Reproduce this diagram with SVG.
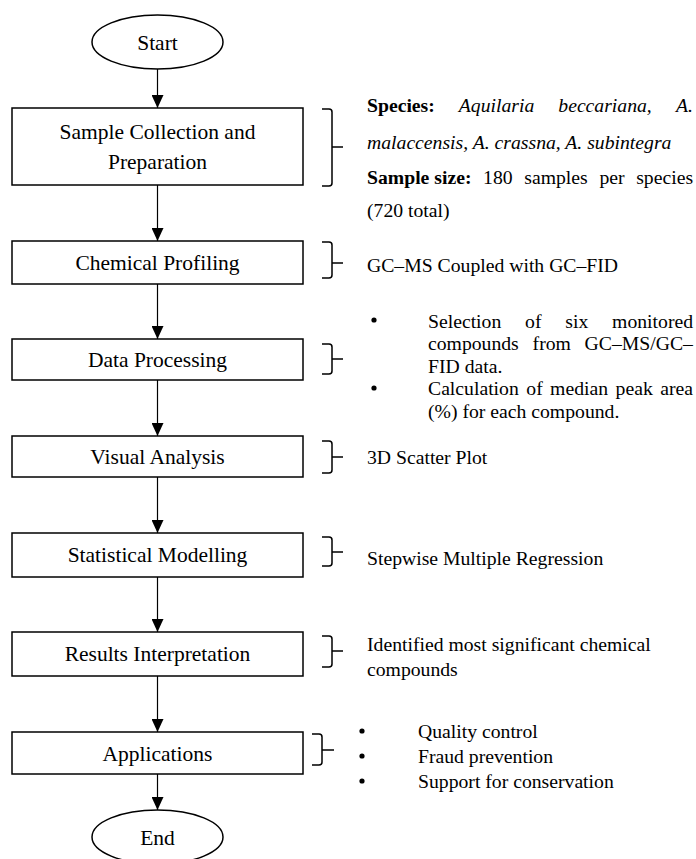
<svg xmlns="http://www.w3.org/2000/svg" width="696" height="859" viewBox="0 0 696 859">
<defs>
<marker id="ah" viewBox="0 -6 13 12" refX="13" refY="0" markerWidth="13" markerHeight="12" markerUnits="userSpaceOnUse" orient="auto"><path d="M0,-6 L13,0 L0,6 z" fill="#000"/></marker>
<style>
.box{fill:#fff;stroke:#000;stroke-width:1.5}
.lbl{font-family:"Liberation Serif","Times New Roman",serif;font-size:21.5px;fill:#000;text-anchor:middle}
.ann{font-family:"Liberation Serif","Times New Roman",serif;font-size:19.7px;fill:#000}
.b{font-weight:bold}
.i{font-style:italic}
.brace{fill:none;stroke:#000;stroke-width:1.5}
.conn{fill:none;stroke:#000;stroke-width:1.2;marker-end:url(#ah)}
.dot{fill:#000}
</style>
</defs>
<rect width="696" height="859" fill="#fff"/>

<g id="connectors">
<line class="conn" x1="157.5" y1="69" x2="157.5" y2="108"/>
<line class="conn" x1="157.5" y1="185" x2="157.5" y2="241"/>
<line class="conn" x1="157.5" y1="284" x2="157.5" y2="339"/>
<line class="conn" x1="157.5" y1="380" x2="157.5" y2="436"/>
<line class="conn" x1="157.5" y1="477" x2="157.5" y2="533"/>
<line class="conn" x1="157.5" y1="577" x2="157.5" y2="632"/>
<line class="conn" x1="157.5" y1="676" x2="157.5" y2="732"/>
<line class="conn" x1="157.5" y1="774" x2="157.5" y2="810"/>
</g>

<g id="start">
<ellipse class="box" cx="157.5" cy="42" rx="65.5" ry="27"/>
<text class="lbl" x="157.5" y="50">Start</text>
</g>
<g id="sample-collection">
<rect class="box" x="12" y="108" width="291" height="77"/>
<text class="lbl" x="157.5" y="139">Sample Collection and</text>
<text class="lbl" x="157.5" y="169">Preparation</text>
</g>
<g id="chemical-profiling">
<rect class="box" x="12" y="241" width="291" height="43"/>
<text class="lbl" x="157.5" y="270">Chemical Profiling</text>
</g>
<g id="data-processing">
<rect class="box" x="12" y="339" width="291" height="41"/>
<text class="lbl" x="157.5" y="367">Data Processing</text>
</g>
<g id="visual-analysis">
<rect class="box" x="12" y="436" width="291" height="41"/>
<text class="lbl" x="157.5" y="464">Visual Analysis</text>
</g>
<g id="statistical-modelling">
<rect class="box" x="12" y="533" width="291" height="44"/>
<text class="lbl" x="157.5" y="562">Statistical Modelling</text>
</g>
<g id="results-interpretation">
<rect class="box" x="12" y="632" width="291" height="44"/>
<text class="lbl" x="157.5" y="661">Results Interpretation</text>
</g>
<g id="applications">
<rect class="box" x="12" y="732" width="291" height="42"/>
<text class="lbl" x="157.5" y="761">Applications</text>
</g>
<g id="end">
<ellipse class="box" cx="157.5" cy="837" rx="65.5" ry="27"/>
<text class="lbl" x="157.5" y="845">End</text>
</g>

<g id="braces">
<path class="brace" d="M322,109 H329 Q332,109 332,112 V183 Q332,186 329,186 H322 M332,147 H343"/>
<path class="brace" d="M322,242 H329 Q332,242 332,245 V275 Q332,278 329,278 H322 M332,263 H343"/>
<path class="brace" d="M322,344 H329 Q332,344 332,347 V371 Q332,374 329,374 H322 M332,359 H343"/>
<path class="brace" d="M322,441 H329 Q332,441 332,444 V470 Q332,473 329,473 H322 M332,457 H343"/>
<path class="brace" d="M322,537 H329 Q332,537 332,540 V563 Q332,566 329,566 H322 M332,552 H343"/>
<path class="brace" d="M322,636 H329 Q332,636 332,639 V664 Q332,667 329,667 H322 M332,651 H343"/>
<path class="brace" d="M312,734 H319 Q322,734 322,737 V762 Q322,765 319,765 H312 M322,750 H334"/>
</g>

<g id="note-sample">
<text class="ann" y="111.5"><tspan class="b" x="367">Species:</tspan><tspan class="i" x="458.8">Aquilaria</tspan><tspan class="i" x="558.3">beccariana,</tspan><tspan class="i" x="676">A.</tspan></text>
<text class="ann i" x="367" y="148.5">malaccensis, A. crassna, A. subintegra</text>
<text class="ann" y="183.5"><tspan class="b" x="367">Sample size:</tspan><tspan x="483.1">180</tspan><tspan x="524.3">samples</tspan><tspan x="599.4">per</tspan><tspan x="636.2">species</tspan></text>
<text class="ann" x="367" y="216.5">(720 total)</text>
</g>
<g id="note-chemical">
<text class="ann" x="367" y="271.5">GC–MS Coupled with GC–FID</text>
</g>
<g id="note-data">
<circle class="dot" cx="374" cy="320" r="2.6"/>
<circle class="dot" cx="374" cy="388" r="2.6"/>
<text class="ann" y="327.5"><tspan x="428">Selection</tspan><tspan x="525.1">of</tspan><tspan x="565.3">six</tspan><tspan x="612.1">monitored</tspan></text>
<text class="ann" y="350"><tspan x="428">compounds</tspan><tspan x="532.6">from</tspan><tspan x="584.6">GC–MS/GC–</tspan></text>
<text class="ann" x="428" y="372.7">FID data.</text>
<text class="ann" y="395.3"><tspan x="428">Calculation</tspan><tspan x="526.3">of</tspan><tspan x="550.1">median</tspan><tspan x="615.6">peak</tspan><tspan x="660.2">area</tspan></text>
<text class="ann" x="428" y="418">(%) for each compound.</text>
</g>
<g id="note-visual">
<text class="ann" x="367" y="463.5">3D Scatter Plot</text>
</g>
<g id="note-statistical">
<text class="ann" x="367" y="564.5">Stepwise Multiple Regression</text>
</g>
<g id="note-results">
<text class="ann" x="367" y="650.5">Identified most significant chemical</text>
<text class="ann" x="367" y="675.5">compounds</text>
</g>
<g id="note-applications">
<circle class="dot" cx="362" cy="731" r="2.6"/>
<circle class="dot" cx="362" cy="756" r="2.6"/>
<circle class="dot" cx="362" cy="781" r="2.6"/>
<text class="ann" x="418" y="737.5">Quality control</text>
<text class="ann" x="418" y="762.5">Fraud prevention</text>
<text class="ann" x="418" y="787.5">Support for conservation</text>
</g>
</svg>
